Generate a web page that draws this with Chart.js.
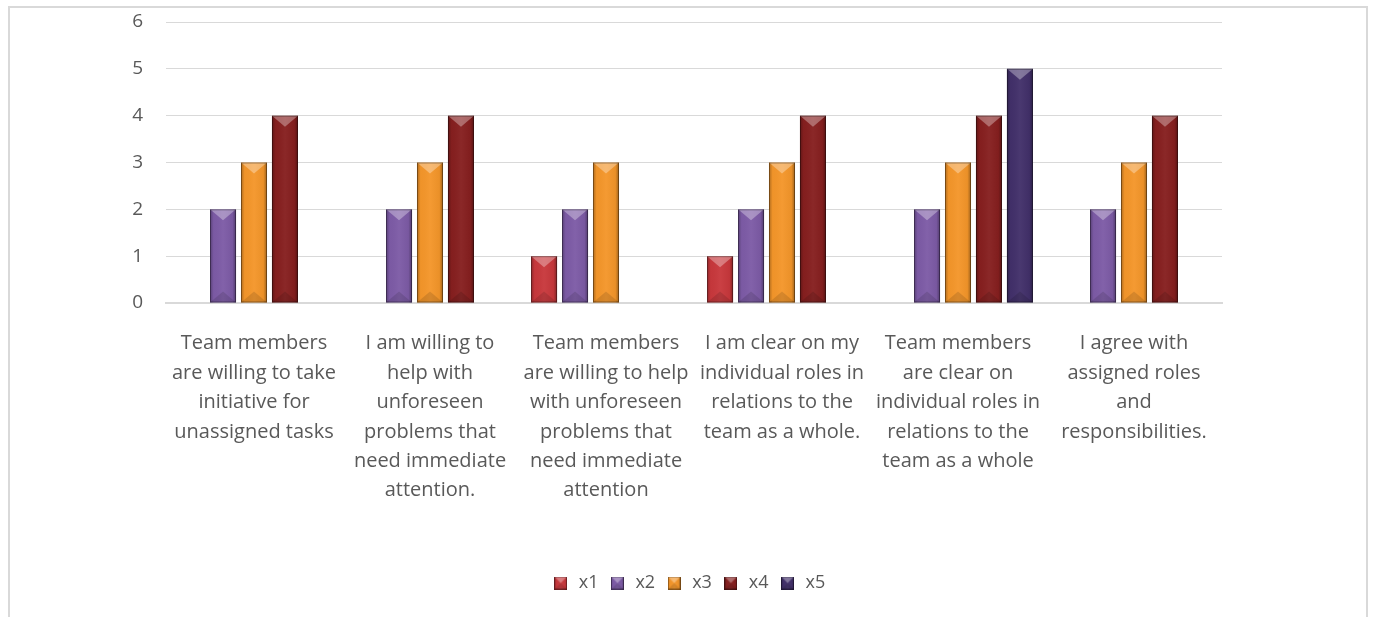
<!DOCTYPE html>
<html>
<head>
<meta charset="utf-8">
<script src="https://cdn.jsdelivr.net/npm/chart.js@4/dist/chart.umd.min.js"></script>
<style>
  html, body { margin: 0; padding: 0; background: #fff; }
  #frame {
    position: absolute; left: 8px; top: 6px; width: 1360px; height: 640px;
    border: 2px solid #d9d9d9; box-sizing: border-box;
  }
  #wrap { position: absolute; left: 0; top: 0; width: 1377px; height: 617px; }
</style>
</head>
<body>
<div id="frame"></div>
<div id="wrap"><canvas id="chart" width="1377" height="617"></canvas></div>
<script>
// Survey questions, one label per line
const categories = [
  ['Team members', 'are willing to take', 'initiative for', 'unassigned tasks'],
  ['I am willing to', 'help with', 'unforeseen', 'problems that', 'need immediate', 'attention.'],
  ['Team members', 'are willing to help', 'with unforeseen', 'problems that', 'need immediate', 'attention'],
  ['I am clear on my', 'individual roles in', 'relations to the', 'team as a whole.'],
  ['Team members', 'are clear on', 'individual roles in', 'relations to the', 'team as a whole'],
  ['I agree with', 'assigned roles', 'and', 'responsibilities.']
]

const seriesNames = ['x1', 'x2', 'x3', 'x4', 'x5']
const x1 = [null, null, 1, 1, null, null]
const x2 = [2, 2, 2, 2, 2, 2]
const x3 = [3, 3, 3, 3, 3, 3]
const x4 = [4, 4, null, 4, 4, 4]
const x5 = [null, null, null, null, 5, null]
const seriesColors = ['#c8383c', '#7d5ba6', '#f4962a', '#861f1f', '#42306a']

const yTicks = [0, 1, 2, 3, 4, 5, 6]

const textColor = '#595959'
const fontFamily = '"Open Sans", Lato, sans-serif'

// Paint the bevel (light top chevron, dark edges) over a rectangle
function paintBevel(ctx, l, t, w, h) {
  const r = l + w, b = t + h, cx = l + w / 2
  const d = Math.min(w / 2, 11, h / 2)

  const side = ctx.createLinearGradient(l, 0, r, 0)
  side.addColorStop(0, 'rgba(0,0,0,0.28)')
  side.addColorStop(0.14, 'rgba(0,0,0,0.02)')
  side.addColorStop(0.5, 'rgba(255,255,255,0.04)')
  side.addColorStop(0.86, 'rgba(0,0,0,0.04)')
  side.addColorStop(1, 'rgba(0,0,0,0.35)')
  ctx.fillStyle = side
  ctx.fillRect(l, t, w, h)

  // top face
  ctx.beginPath()
  ctx.moveTo(l, t)
  ctx.lineTo(r, t)
  ctx.lineTo(cx, t + d)
  ctx.closePath()
  ctx.fillStyle = 'rgba(255,255,255,0.32)'
  ctx.fill()

  // bottom face
  ctx.beginPath()
  ctx.moveTo(l, b)
  ctx.lineTo(r, b)
  ctx.lineTo(cx, b - d)
  ctx.closePath()
  ctx.fillStyle = 'rgba(0,0,0,0.12)'
  ctx.fill()

  ctx.strokeStyle = 'rgba(0,0,0,0.35)'
  ctx.lineWidth = 1
  ctx.strokeRect(l + 0.5, t + 0.5, w - 1, h - 1)
}

// Small bevelled squares for the legend
function makeSwatch(color) {
  const c = document.createElement('canvas')
  c.width = 13
  c.height = 13
  const g = c.getContext('2d')
  g.fillStyle = color
  g.fillRect(0, 0, 13, 13)
  paintBevel(g, 0, 0, 13, 13)
  return c
}

const bevelPlugin = {
  id: 'bevel',
  afterDatasetDraw(chart, args) {
    const ctx = chart.ctx
    const values = chart.data.datasets[args.index].data
    ctx.save()
    args.meta.data.forEach((bar, i) => {
      if (values[i] == null) return
      const { x, y, base, width } = bar.getProps(['x', 'y', 'base', 'width'], true)
      paintBevel(ctx, x - width / 2, y, width, base - y)
    })
    ctx.restore()
  }
}

const seriesData = [x1, x2, x3, x4, x5]

const chart = new Chart(document.getElementById('chart'), {
  type: 'bar',
  data: {
    labels: categories,
    datasets: seriesNames.map((name, i) => ({
      label: name,
      data: seriesData[i],
      backgroundColor: seriesColors[i],
      borderWidth: 0,
      pointStyle: makeSwatch(seriesColors[i]),
      categoryPercentage: 0.88,
      barPercentage: 0.84
    }))
  },
  options: {
    responsive: false,
    animation: false,
    layout: { padding: { left: 0, right: 0, top: 22, bottom: 15 } },
    plugins: {
      legend: {
        position: 'bottom',
        labels: {
          usePointStyle: true,
          color: textColor,
          font: { family: fontFamily, size: 18 },
          padding: 10
        }
      },
      tooltip: { enabled: false }
    },
    scales: {
      x: {
        grid: { display: false, drawTicks: false },
        border: { color: '#d9d9d9', width: 2 },
        ticks: {
          color: textColor,
          font: { family: fontFamily, size: 20, lineHeight: '29.4px' },
          padding: 26,
          maxRotation: 0,
          autoSkip: false
        },
        afterFit(scale) { scale.height = 261 }
      },
      y: {
        min: 0,
        max: 6,
        grid: { color: '#d9d9d9', lineWidth: 1, drawTicks: false },
        border: { display: false },
        afterBuildTicks(scale) { scale.ticks = yTicks.map(v => ({ value: v })) },
        ticks: {
          color: textColor,
          font: { family: fontFamily, size: 19 },
          padding: 23
        },
        afterFit(scale) {
          scale.width = 166
          // the tick padding is horizontal only here, keep it off the top/bottom
          scale.paddingTop = 0
          scale.paddingBottom = 0
        }
      },
      // empty right-hand margin so the legend stays centred on the page
      gutter: {
        type: 'linear',
        position: 'right',
        display: true,
        grid: { display: false, drawTicks: false },
        border: { display: false },
        ticks: { display: false },
        afterFit(scale) { scale.width = 155 }
      }
    }
  },
  plugins: [bevelPlugin]
})
</script>
</body>
</html>
